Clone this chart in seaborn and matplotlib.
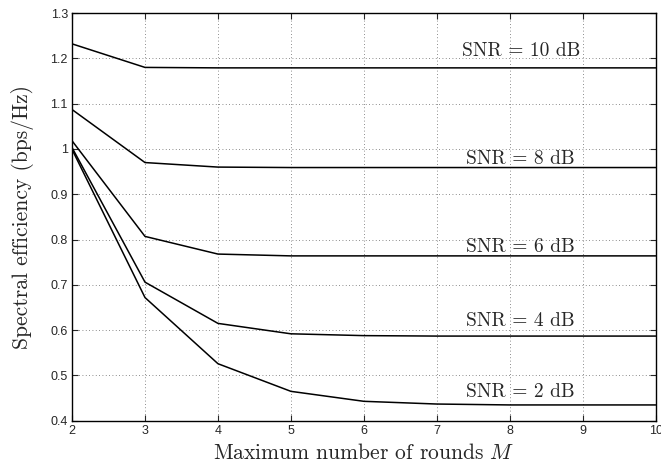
import pandas as pd
import seaborn as sns
import matplotlib.pyplot as plt
from matplotlib.ticker import FormatStrFormatter

# values
rounds = [2, 3, 4, 5, 6, 7, 8, 9, 10]
snr_labels = ["SNR = 10 dB", "SNR = 8 dB", "SNR = 6 dB", "SNR = 4 dB", "SNR = 2 dB"]
eff_10db = [1.232, 1.180, 1.179, 1.179, 1.179, 1.179, 1.179, 1.179, 1.179]
eff_8db = [1.087, 0.970, 0.960, 0.959, 0.959, 0.959, 0.959, 0.959, 0.959]
eff_6db = [1.018, 0.807, 0.768, 0.764, 0.764, 0.764, 0.764, 0.764, 0.764]
eff_4db = [1.003, 0.706, 0.615, 0.592, 0.588, 0.587, 0.587, 0.587, 0.587]
eff_2db = [0.999, 0.672, 0.526, 0.465, 0.443, 0.437, 0.435, 0.435, 0.435]
label_y = [1.205, 0.967, 0.772, 0.609, 0.452]

series = [eff_10db, eff_8db, eff_6db, eff_4db, eff_2db]
df = pd.concat(
    [pd.DataFrame({"M": rounds, "eff": s, "snr": lab}) for s, lab in zip(series, snr_labels)],
    ignore_index=True,
)

sns.set_style("ticks")
plt.rcParams["mathtext.fontset"] = "cm"
plt.rcParams["axes.unicode_minus"] = False

fig, ax = plt.subplots(figsize=(6.61, 4.66), dpi=100)
sns.lineplot(data=df, x="M", y="eff", hue="snr", palette=["black"] * 5,
             linewidth=1.1, legend=False, ax=ax)

# curve labels sit just above each curve
for lab, y in zip(snr_labels, label_y):
    ax.text(8.15, y, lab, ha="center", va="baseline", fontsize=14, family="cmr10")

ax.set_xlim(2, 10)
ax.set_ylim(0.4, 1.3)
ax.set_xticks(range(2, 11))
ax.set_yticks([0.4, 0.5, 0.6, 0.7, 0.8, 0.9, 1.0, 1.1, 1.2, 1.3])
ax.yaxis.set_major_formatter(FormatStrFormatter("%g"))
ax.grid(True, linestyle=(0, (1, 3)), color="black", linewidth=0.6, alpha=0.6)
ax.tick_params(direction="in", top=True, right=True, labelsize=9, length=4, pad=3)
for lbl in ax.get_xticklabels() + ax.get_yticklabels():
    lbl.set_family("Liberation Sans")
for sp in ax.spines.values():
    sp.set_linewidth(1.0)
    sp.set_color("black")

ax.set_xlabel("Maximum number of rounds $M$", fontsize=15.5, family="cmr10", labelpad=4)
ax.set_ylabel("Spectral efficiency (bps/Hz)", fontsize=15.5, family="cmr10", labelpad=12)

plt.subplots_adjust(left=0.109, right=0.992, top=0.972, bottom=0.097)
plt.savefig("out.png", dpi=100)
